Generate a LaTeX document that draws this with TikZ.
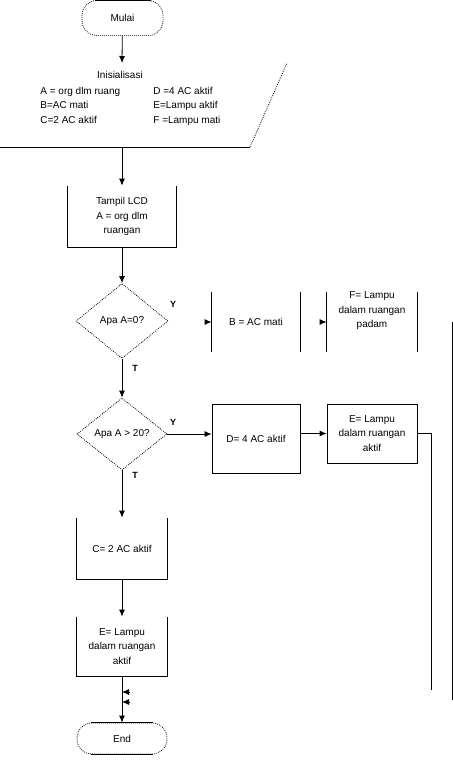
\documentclass[tikz,border=0pt]{standalone}
\usepackage{fontspec}
\setmainfont{Liberation Sans}
\usetikzlibrary{arrows.meta,shapes.geometric}

\begin{document}
\begin{tikzpicture}[
  x=1pt,y=-1pt,
  line width=.8pt,
  >={Latex[length=7pt,width=6pt]},
  font=\fontsize{10}{14.5}\selectfont,
  dotline/.style={dash pattern=on .8pt off 1.2pt},
  terminal/.style={draw,dotline,rectangle,rounded corners=15pt,inner sep=0pt},
  process/.style={rectangle,minimum width=90pt,minimum height=60pt,align=center,inner sep=0pt},
  decision/.style={draw,dotline,diamond,minimum width=92pt,minimum height=75pt,inner sep=0pt},
  yesno/.style={font=\bfseries\fontsize{9}{10}\selectfont}
]
  \useasboundingbox (0,0) rectangle (453,764);

  % start and input
  \node[terminal,minimum width=81pt,minimum height=35pt] (mulai) at (122.5,18) {Mulai};
  \coordinate (intop) at (122,63);
  \coordinate (inbot) at (122,147);
  \coordinate (inbl) at (0,147);
  \coordinate (inbr) at (250,147);
  \coordinate (intr) at (287,63);
  \node (inittitle) at (120,75) {Inisialisasi};
  \node[anchor=west,inner sep=0pt] (initvars) at (40,105.7) {%
    \begin{tabular}{@{}p{113pt}@{}l@{}}
      A = org dlm ruang & D =4 AC aktif\\
      B=AC mati & E=Lampu aktif\\
      C=2 AC aktif & F =Lampu mati
    \end{tabular}};

  % main column
  \node[process,minimum width=108pt,minimum height=61pt] (tampil) at (122,216.5) {Tampil LCD\\A = org dlm\\ruangan};
  \node[decision] (dec1) at (122,321) {Apa A=0?};
  \node[decision,minimum width=90pt,minimum height=72pt] (dec2) at (122,434) {Apa A > 20?};
  \node[process,minimum height=61pt] (cakt) at (122,548.5) {C= 2 AC aktif};
  \node[process,minimum height=59pt] (elamp) at (122,646.5) {E= Lampu\\dalam ruangan\\aktif};
  \node[terminal,minimum width=90pt,minimum height=31pt] (stop) at (122,738.5) {End};

  % right branches
  \node[process,minimum width=88pt] (bmati) at (256,322) {B = AC mati};
  \node[process] (fpadam) at (372,322) {};
  \node[anchor=north,align=center,inner sep=0pt] (fpadamtxt) at (fpadam.north) {F= Lampu\\dalam ruangan\\padam};
  \node[process,draw,minimum width=88pt,minimum height=69pt] (dakt) at (256,438.5) {D= 4 AC aktif};
  \node[process,draw,minimum height=59pt] (elampr) at (372,433.5) {E= Lampu\\dalam ruangan\\aktif};

  \node[yesno] (y1) at (173,304) {Y};
  \node[yesno] (t1) at (135,368) {T};
  \node[yesno] (y2) at (173,422) {Y};
  \node[yesno] (t2) at (135,475) {T};

  \coordinate (back1) at (431,690);
  \coordinate (back2top) at (452,322);
  \coordinate (back2) at (452,700);
  \coordinate (join1) at (122,692);
  \coordinate (join2) at (122,702);

  % outlines
  \draw (inbl) -- (inbr);
  \draw[dotline] (inbr) -- (intr);
  \foreach \b in {tampil,cakt,elamp}
    \draw (\b.north west) -- (\b.south west) -- (\b.south east) -- (\b.north east);
  \foreach \b in {bmati,fpadam} {
    \draw (\b.north west) -- (\b.south west);
    \draw (\b.north east) -- (\b.south east);
  }
  \draw ([xshift=-28pt]mulai.north) -- ([xshift=28pt]mulai.north);
  \draw ([xshift=-31pt]stop.north) -- ([xshift=31pt]stop.north);
  \draw ([xshift=-31pt]stop.south) -- ([xshift=31pt]stop.south);

  % connectors
  \draw[->] (mulai) -- (intop);
  \draw[->] (inbot) -- (tampil);
  \draw[->] (tampil) -- (dec1);
  \draw[->] (bmati.west) ++(-7,0) -- (bmati.west);
  \draw[->] (fpadam.west) ++(-7,0) -- (fpadam.west);
  \draw[->] (dec1) -- (dec2);
  \draw[->] (dec2.east) -- (dec2.east -| dakt.west);
  \draw[->] (dakt.east |- elampr.west) -- (elampr.west);
  \draw (elampr.east) -| (back1);
  \draw (back2top) -- (back2);
  \draw[->] (join1) ++(8,0) -- (join1);
  \draw[->] (join2) ++(8,0) -- (join2);
  \draw[->] (dec2) -- (cakt);
  \draw[->] (cakt) -- (elamp);
  \draw[->] (elamp) -- (stop);
\end{tikzpicture}
\end{document}
